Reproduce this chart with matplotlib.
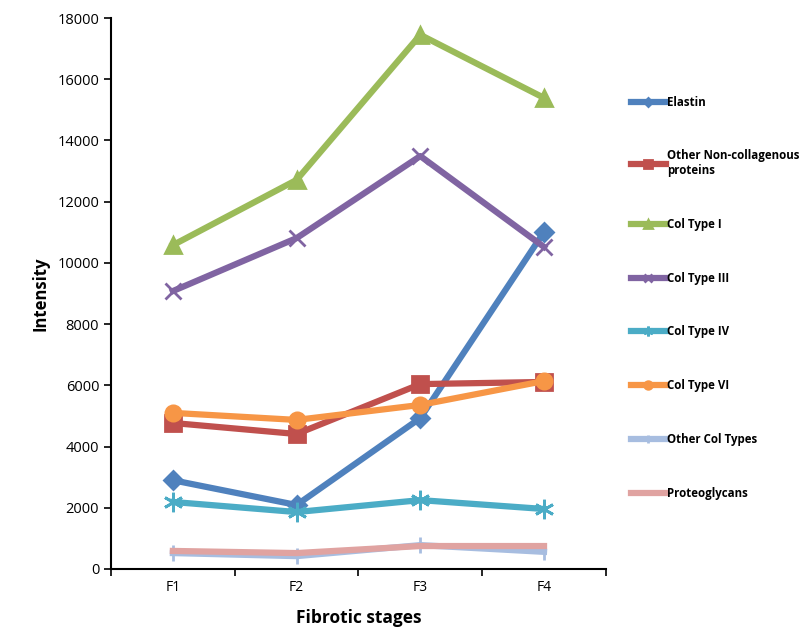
import matplotlib
matplotlib.use("Agg")
import matplotlib.pyplot as plt
from matplotlib.ticker import MultipleLocator

stages = ["F1", "F2", "F3", "F4"]
elastin = [2900, 2090, 4930, 11010]
other_noncoll = [4770, 4410, 6040, 6110]
col_i = [10580, 12710, 17450, 15390]
col_iii = [9080, 10810, 13490, 10520]
col_iv = [2190, 1860, 2250, 1960]
col_vi = [5100, 4870, 5360, 6140]
other_col = [520, 420, 780, 560]
proteoglycans = [590, 520, 750, 750]

series = [
    ("Elastin", elastin, "#4F81BD", "D", 9),
    ("Other Non-collagenous\nproteins", other_noncoll, "#C0504D", "s", 11),
    ("Col Type I", col_i, "#9BBB59", "^", 11),
    ("Col Type III", col_iii, "#8064A2", "x", 11),
    ("Col Type IV", col_iv, "#4BACC6", (6, 2, 0), 14),
    ("Col Type VI", col_vi, "#F79646", "o", 11),
    ("Other Col Types", other_col, "#A7BDE0", "|", 11),
    ("Proteoglycans", proteoglycans, "#E0A3A1", "None", 8),
]

plt.rcParams['font.family'] = ['Open Sans', 'DejaVu Sans']
fig = plt.figure(figsize=(8.01, 6.32), dpi=100)
ax = fig.add_axes([0.1386, 0.0997, 0.7564 - 0.1386, 0.9715 - 0.0997])

x = list(range(len(stages)))
for label, vals, color, marker, ms in series:
    ax.plot(x, vals, color=color, lw=4.5, marker=marker, ms=ms,
            markeredgecolor=color, markerfacecolor=color, mew=2, label=label,
            solid_joinstyle='round')

ax.set_xlim(-0.5, 3.5)
ax.set_ylim(0, 18000)
ax.set_xticks(x)
ax.set_xticklabels(stages, fontsize=10)
ax.set_xticks([-0.5, 0.5, 1.5, 2.5, 3.5], minor=True)
ax.tick_params(axis='x', which='major', length=0, pad=8)
ax.tick_params(axis='x', which='minor', length=5, width=1.2, direction='out')
ax.yaxis.set_major_locator(MultipleLocator(2000))
ax.tick_params(axis='y', length=5, width=1.2, labelsize=10.5)
for s in ['top', 'right']:
    ax.spines[s].set_visible(False)
for s in ['left', 'bottom']:
    ax.spines[s].set_linewidth(1.5)

ax.set_ylabel("Intensity", fontsize=12, fontweight='bold', labelpad=6)
ax.set_xlabel("Fibrotic stages", fontsize=12.5, fontweight='bold', labelpad=10)

leg = fig.legend(loc='upper left', bbox_to_anchor=(0.775, 0.865), frameon=False,
                 prop={'size': 8.3, 'weight': 'bold'}, handlelength=3.0,
                 handletextpad=0.1, labelspacing=3.53, markerscale=0.5)

fig.savefig("out.png", dpi=100)
